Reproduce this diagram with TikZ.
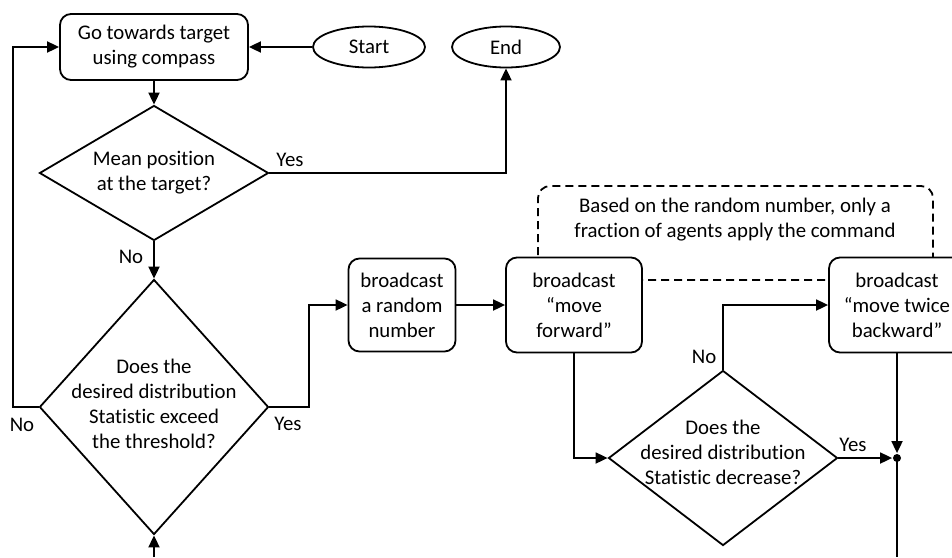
\documentclass[tikz,border=0pt]{standalone}
\usepackage{fontspec}
\setmainfont{Carlito}[Ligatures=NoCommon]
\usetikzlibrary{shapes.geometric,arrows.meta}
\newcommand{\fsz}{\fontsize{20.8}{25}\selectfont}
\begin{document}
\begin{tikzpicture}[x=1pt,y=-1pt,line width=1.8pt,
  box/.style={draw,rounded corners=11pt,fill=white,align=center,inner sep=0pt,font=\fsz},
  term/.style={draw,ellipse,inner sep=0pt,align=center,font=\fsz},
  dia/.style={draw,diamond,inner sep=0pt,fill=white},
  txt/.style={align=center,font=\fsz,inner sep=0pt},
  lab/.style={font=\fsz,inner sep=0pt},
  arr/.style={-{Triangle[length=12pt,width=11pt]}},
  dashbox/.style={dash pattern=on 8pt off 5pt,rounded corners=12pt}]
\useasboundingbox (0,0) rectangle (952,557);

% dashed frame (behind boxes)
\draw[dashbox] (538,280) rectangle (933,186);
\node[txt] (note) at (735,220) {Based on the random number, only a\\fraction of agents apply the command};

% nodes
\node[box,minimum width=188pt,minimum height=66pt] (go) at (154,47) {Go towards target\\using compass};
\node[term,minimum width=112pt,minimum height=41pt] (start) at (369,47) {Start};
\node[term,minimum width=108pt,minimum height=41pt] (end) at (506,47) {End};
\node[dia,minimum width=229pt,minimum height=135pt] (d1) at (154,173) {};
\node[txt] at (154,173) {Mean position\\at the target?};
\node[dia,minimum width=229pt,minimum height=255pt] (d2) at (154,407) {};
\node[txt] at (154,404) {Does the\\desired distribution\\Statistic exceed\\the threshold?};
\node[box,minimum width=107pt,minimum height=93pt] (rnd) at (402,305) {broadcast\\a random\\number};
\node[box,minimum width=136pt,minimum height=95pt] (fwd) at (574,305) {broadcast\\“move\\forward”};
\node[box,minimum width=136pt,minimum height=95pt] (twice) at (897,305) {broadcast\\“move twice\\backward”};
\node[dia,minimum width=229pt,minimum height=175pt] (d3) at (723,458) {};
\node[txt] at (723,452) {Does the\\desired distribution\\Statistic decrease?};
\node[circle,fill,inner sep=0pt,minimum size=8pt] (dot) at (897,458) {};

\coordinate (lx) at (13,0);
\coordinate (rx) at (309,0);
\coordinate (bl) at (154,557);
\coordinate (br) at (897,557);

% connectors
\draw[arr] (start.west) -- (go.east);
\draw[arr] (go.south) -- (d1.north);
\draw[arr] (d1.east) -- (end.south |- d1.east) -- (end.south);
\draw[arr] (d1.south) -- (d2.north);
\draw[arr] (d2.west) -- (lx |- d2.west) |- (go.west);
\draw[arr] (d2.east) -- (rx |- d2.east) |- (rnd.west);
\draw[arr] (rnd.east) -- (fwd.west);
\draw[arr] (fwd.south) |- (d3.west);
\draw[arr] (d3.north) |- (twice.west);
\draw[arr] (d3.east) -- (dot.west);
\draw[arr] (twice.south) -- (dot.north);
\draw (dot.center) -- (br);
\draw[arr] (bl) -- (d2.south);

% labels
\node[lab] at (290,160) {Yes};
\node[lab] at (131,257) {No};
\node[lab] at (22,425) {No};
\node[lab] at (288,424) {Yes};
\node[lab] at (704,357) {No};
\node[lab] at (853,445) {Yes};
\end{tikzpicture}
\end{document}
